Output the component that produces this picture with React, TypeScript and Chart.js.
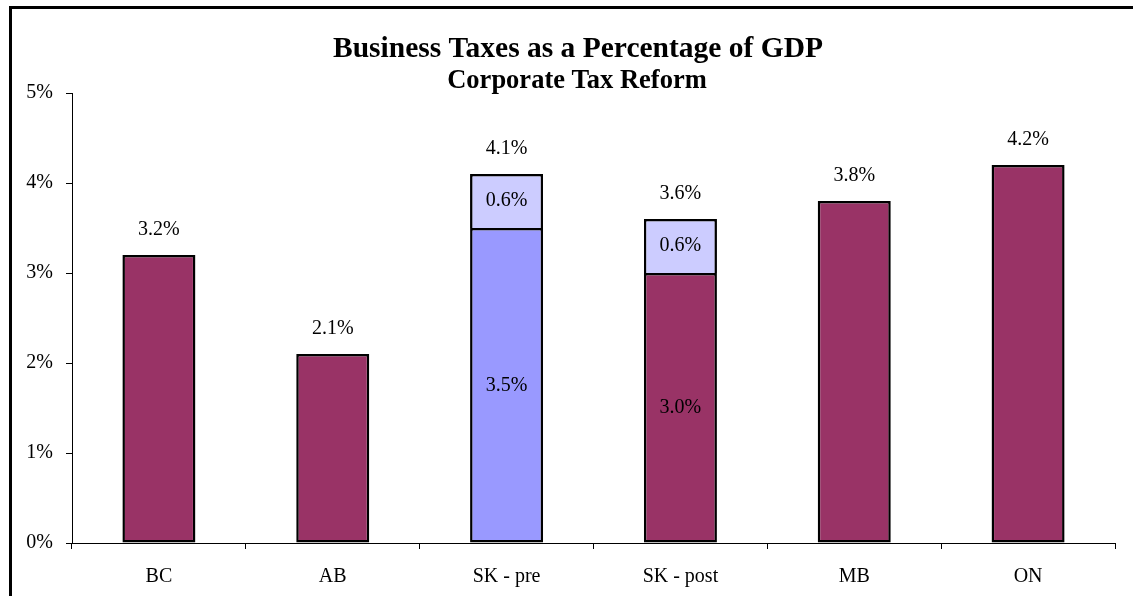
import React, { useEffect, useRef } from "react";
import { Chart, registerables } from "chart.js";

Chart.register(...registerables);

const categories = ["BC", "AB", "SK - pre", "SK - post", "MB", "ON"];
const baseValues = [3.2, 2.1, 3.5, 3.0, 3.8, 4.2];
const topValues = [null, null, 0.6, 0.6, null, null];
const totals = [3.2, 2.1, 4.1, 3.6, 3.8, 4.2];
const baseColors = ["#993366", "#993366", "#9999FF", "#993366", "#993366", "#993366"];
const topColor = "#CCCCFF";
const showBaseLabel = [false, false, true, true, false, false];
const yTicks = [0, 1, 2, 3, 4, 5];

const FONT = "'Liberation Serif', 'Times New Roman', serif";

const labelPlugin = {
  id: "labels",
  afterDatasetsDraw(chart: any) {
    const ctx = chart.ctx;
    ctx.save();
    ctx.fillStyle = "#000";
    ctx.font = `20px ${FONT}`;
    ctx.textAlign = "center";
    ctx.textBaseline = "middle";
    const y = chart.scales.y;
    const m0 = chart.getDatasetMeta(0);
    const m1 = chart.getDatasetMeta(1);
    categories.forEach((_, i) => {
      const x = m0.data[i].x;
      const ty = y.getPixelForValue(totals[i]);
      ctx.fillText(`${totals[i].toFixed(1)}%`, x, ty - 25);
      if (showBaseLabel[i]) {
        const b = m0.data[i];
        ctx.fillText(`${baseValues[i].toFixed(1)}%`, x, (b.y + b.base) / 2);
      }
      if (topValues[i] != null) {
        const t = m1.data[i];
        ctx.fillText(`${(topValues[i] as number).toFixed(1)}%`, x, (t.y + t.base) / 2);
      }
    });
    // titles
    ctx.font = `bold 29.5px ${FONT}`;
    ctx.textBaseline = "alphabetic";
    ctx.fillText("Business Taxes as a Percentage of GDP", 578, 57);
    ctx.font = `bold 26.5px ${FONT}`;
    ctx.fillText("Corporate Tax Reform", 577, 88);
    ctx.restore();
  },
};

export default function App() {
  const ref = useRef<HTMLCanvasElement>(null);
  useEffect(() => {
    const chart = new Chart(ref.current!, {
      type: "bar",
      data: {
        labels: categories,
        datasets: [
          {
            data: baseValues,
            backgroundColor: baseColors,
            borderColor: "#000",
            borderWidth: 2.5,
            borderSkipped: false,
            barPercentage: 0.42,
            categoryPercentage: 1,
          },
          {
            data: topValues as any,
            backgroundColor: topColor,
            borderColor: "#000",
            borderWidth: { top: 2.5, left: 2.5, right: 2.5, bottom: 0 },
            borderSkipped: false,
            barPercentage: 0.42,
            categoryPercentage: 1,
          },
        ],
      },
      options: {
        animation: false,
        responsive: false,
        events: [],
        layout: { padding: { left: 0, top: 93, right: 18, bottom: 0 } },
        plugins: { legend: { display: false }, title: { display: false }, tooltip: { enabled: false } },
        scales: {
          x: {
            stacked: true,
            afterFit: (s: any) => { s.height = 53; },
            grid: { drawOnChartArea: false, tickLength: 6, color: "#000", offset: true },
            border: { color: "#000", width: 1 },
            ticks: { color: "#000", font: { family: FONT, size: 20 }, padding: 16, maxRotation: 0 },
          },
          y: {
            stacked: true,
            min: 0,
            max: 5,
            afterFit: (s: any) => { s.width = 72; },
            afterBuildTicks: (s: any) => { s.ticks = yTicks.map((v) => ({ value: v })); },
            grid: { drawOnChartArea: false, tickLength: 6, color: "#000" },
            border: { color: "#000", width: 1 },
            ticks: {
              color: "#000",
              font: { family: FONT, size: 20 },
              padding: 13,
              callback: (v: any) => `${v}%`,
            },
          },
        },
      },
      plugins: [labelPlugin],
    });
    return () => chart.destroy();
  }, []);
  return (
    <div style={{ position: "fixed", left: 0, top: 0, width: 1133, height: 596, overflow: "hidden", background: "#fff" }}>
      <canvas ref={ref} width={1133} height={596} style={{ position: "absolute", left: 0, top: 0 }} />
      <div style={{ position: "absolute", left: 9, top: 6, width: 2000, height: 2000, border: "3px solid #000", boxSizing: "border-box", pointerEvents: "none" }} />
    </div>
  );
}
